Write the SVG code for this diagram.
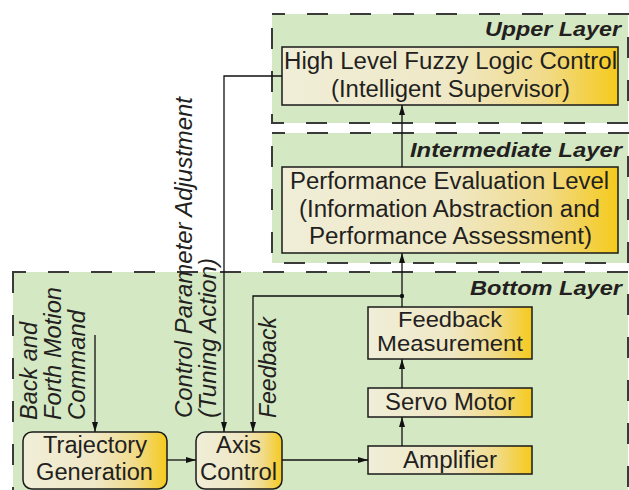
<svg xmlns="http://www.w3.org/2000/svg" width="629" height="490" viewBox="0 0 629 490">
<defs>
<linearGradient id="gold" x1="0" y1="0" x2="1" y2="0">
<stop offset="0" stop-color="#f0eed8"/>
<stop offset="0.5" stop-color="#efe8c6"/>
<stop offset="0.78" stop-color="#f1db8a"/>
<stop offset="1" stop-color="#f5ca1c"/>
</linearGradient>
<marker id="arr" viewBox="0 0 10 6" refX="10" refY="3" markerWidth="10" markerHeight="6" markerUnits="userSpaceOnUse" orient="auto">
<path d="M0,0 L10,3 L0,6 Z" fill="#111"/>
</marker>
<style>
.layer{fill:#d5e8c4;stroke:#3a3a3a;stroke-width:2;stroke-dasharray:21 22;stroke-dashoffset:8}
.box{fill:url(#gold);stroke:#1a1a1a;stroke-width:1.5}
.t{font-family:"Liberation Sans",Arial,sans-serif;font-size:23.5px;fill:#231f20}
.it{font-style:italic}
.lbl{font-family:"Liberation Sans",Arial,sans-serif;font-size:20.5px;font-weight:bold;font-style:italic;fill:#231f20}
.c{fill:none;stroke:#111;stroke-width:1.3}
</style>
</defs>
<rect width="629" height="490" fill="#ffffff"/>
<g id="upper-layer">
<rect class="layer" x="272" y="14" width="356" height="109"/>
<text class="lbl" x="485" y="36" textLength="136" lengthAdjust="spacingAndGlyphs">Upper Layer</text>
</g>
<g id="intermediate-layer">
<rect class="layer" x="272" y="133" width="356" height="130"/>
<text class="lbl" x="410" y="157" textLength="212" lengthAdjust="spacingAndGlyphs">Intermediate Layer</text>
</g>
<g id="bottom-layer">
<rect class="layer" x="13" y="272" width="615" height="230"/>
<text class="lbl" x="470" y="295" textLength="152" lengthAdjust="spacingAndGlyphs">Bottom Layer</text>
</g>
<g id="fuzzy">
<rect class="box" x="282" y="47" width="336" height="58"/>
<text class="t" x="284" y="69" textLength="333" lengthAdjust="spacingAndGlyphs">High Level Fuzzy Logic Control</text>
<text class="t" x="331" y="97" textLength="239" lengthAdjust="spacingAndGlyphs">(Intelligent Supervisor)</text>
</g>
<g id="performance">
<rect class="box" x="282" y="167" width="336" height="86"/>
<text class="t" x="290" y="189" textLength="319" lengthAdjust="spacingAndGlyphs">Performance Evaluation Level</text>
<text class="t" x="299" y="217" textLength="301" lengthAdjust="spacingAndGlyphs">(Information Abstraction and</text>
<text class="t" x="309" y="244" textLength="283" lengthAdjust="spacingAndGlyphs">Performance Assessment)</text>
</g>
<g id="feedback-measurement">
<rect class="box" x="368" y="307" width="164" height="52"/>
<text class="t" x="398" y="327" textLength="104" lengthAdjust="spacingAndGlyphs" style="font-size:22.5px">Feedback</text>
<text class="t" x="377" y="351" textLength="146" lengthAdjust="spacingAndGlyphs" style="font-size:22.5px">Measurement</text>
</g>
<g id="servo-motor">
<rect class="box" x="368" y="388" width="164" height="29"/>
<text class="t" x="385" y="410" textLength="130" lengthAdjust="spacingAndGlyphs">Servo Motor</text>
</g>
<g id="amplifier">
<rect class="box" x="368" y="446" width="164" height="28"/>
<text class="t" x="403" y="468" textLength="94" lengthAdjust="spacingAndGlyphs">Amplifier</text>
</g>
<g id="trajectory">
<rect class="box" x="23" y="432" width="144" height="57" rx="9"/>
<text class="t" x="43" y="453" textLength="104" lengthAdjust="spacingAndGlyphs">Trajectory</text>
<text class="t" x="36" y="480" textLength="117" lengthAdjust="spacingAndGlyphs">Generation</text>
</g>
<g id="axis-control">
<rect class="box" x="196" y="432" width="86" height="57" rx="9"/>
<text class="t" x="216" y="453" textLength="45" lengthAdjust="spacingAndGlyphs">Axis</text>
<text class="t" x="200" y="480" textLength="77" lengthAdjust="spacingAndGlyphs">Control</text>
</g>
<g id="labels">
<text class="t it" transform="translate(37,420) rotate(-90)" textLength="98" lengthAdjust="spacingAndGlyphs">Back and</text>
<text class="t it" transform="translate(61,420) rotate(-90)" textLength="133" lengthAdjust="spacingAndGlyphs">Forth Motion</text>
<text class="t it" transform="translate(85,420) rotate(-90)" textLength="110" lengthAdjust="spacingAndGlyphs">Command</text>
<text class="t it" transform="translate(192,418) rotate(-90)" textLength="321" lengthAdjust="spacingAndGlyphs">Control Parameter Adjustment</text>
<text class="t it" transform="translate(216,418) rotate(-90)" textLength="160" lengthAdjust="spacingAndGlyphs">(Tuning Action)</text>
<text class="t it" transform="translate(276,418) rotate(-90)" textLength="101" lengthAdjust="spacingAndGlyphs">Feedback</text>
</g>
<g id="connectors">
<path class="c" d="M282,76 H224 V432" marker-end="url(#arr)"/>
<path class="c" d="M402,167 V105" marker-end="url(#arr)"/>
<path class="c" d="M402,307 V253" marker-end="url(#arr)"/>
<path class="c" d="M402,296 H253 V432" marker-end="url(#arr)"/>
<circle cx="402" cy="296" r="2.2" fill="#111"/>
<path class="c" d="M95,335 V432" marker-end="url(#arr)"/>
<path class="c" d="M167,460 H196" marker-end="url(#arr)"/>
<path class="c" d="M282,460 H368" marker-end="url(#arr)"/>
<path class="c" d="M402,446 V417" marker-end="url(#arr)"/>
<path class="c" d="M402,388 V359" marker-end="url(#arr)"/>
</g>
</svg>
